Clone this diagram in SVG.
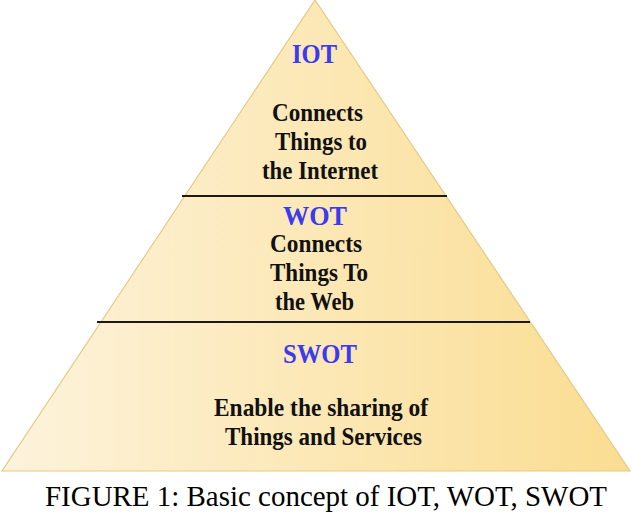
<svg xmlns="http://www.w3.org/2000/svg" width="632" height="516" viewBox="0 0 632 516">
<defs>
<linearGradient id="fill" x1="0" y1="0" x2="1" y2="0">
<stop offset="0" stop-color="#fdf3dc"/>
<stop offset="0.5" stop-color="#fce8b6"/>
<stop offset="1" stop-color="#fadd92"/>
</linearGradient>
</defs>
<style>
.t{font-family:"Liberation Serif","Times New Roman",serif;font-weight:bold;font-size:25px;fill:#111}
.h{font-family:"Liberation Serif","Times New Roman",serif;font-weight:bold;font-size:27px;fill:#3a3af2}
.cap{font-family:"Liberation Serif","Times New Roman",serif;font-size:30px;fill:#000}
.div{stroke:#1a1a1a;stroke-width:2}
</style>
<rect width="632" height="516" fill="#ffffff"/>
<polygon points="315,0 630,471 2,471" fill="url(#fill)" stroke="#e6c984" stroke-width="1.2"/>
<g id="connectors">
<line class="div" x1="182" y1="196" x2="447" y2="196"/>
<line class="div" x1="97" y1="322" x2="530" y2="322"/>
</g>
<g id="iot">
<text class="h" x="292" y="63" textLength="45" lengthAdjust="spacingAndGlyphs">IOT</text>
<text class="t" x="272" y="121" textLength="91" lengthAdjust="spacingAndGlyphs">Connects</text>
<text class="t" x="275" y="150" textLength="92" lengthAdjust="spacingAndGlyphs">Things to</text>
<text class="t" x="262" y="179" textLength="116" lengthAdjust="spacingAndGlyphs">the Internet</text>
</g>
<g id="wot">
<text class="h" x="283" y="225" textLength="64" lengthAdjust="spacingAndGlyphs">WOT</text>
<text class="t" x="270" y="252" textLength="92" lengthAdjust="spacingAndGlyphs">Connects</text>
<text class="t" x="270" y="281" textLength="98" lengthAdjust="spacingAndGlyphs">Things To</text>
<text class="t" x="275" y="310" textLength="79" lengthAdjust="spacingAndGlyphs">the Web</text>
</g>
<g id="swot">
<text class="h" x="283" y="363" textLength="74" lengthAdjust="spacingAndGlyphs">SWOT</text>
<text class="t" x="214" y="416" textLength="214" lengthAdjust="spacingAndGlyphs">Enable the sharing of</text>
<text class="t" x="225" y="445" textLength="197" lengthAdjust="spacingAndGlyphs">Things and Services</text>
</g>
<g id="caption">
<text class="cap" x="45" y="506" textLength="562" lengthAdjust="spacingAndGlyphs">FIGURE 1: Basic concept of IOT, WOT, SWOT</text>
</g>
</svg>
